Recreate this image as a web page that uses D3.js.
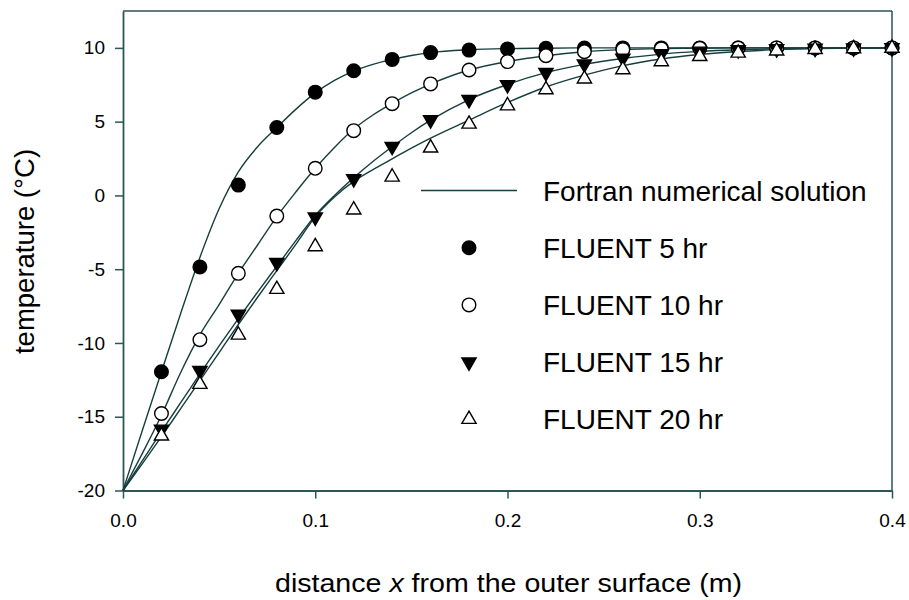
<!DOCTYPE html>
<html>
<head>
<meta charset="utf-8">
<script src="https://cdn.jsdelivr.net/npm/d3@7"></script>
<style>
  body { margin: 0; background: #fff; }
  svg { display: block; font-family: "Liberation Sans", Arial, sans-serif; }
</style>
</head>
<body>
<div id="chart"></div>
<script>
// FLUENT sample positions (m)
const markX = [0.02, 0.04, 0.06, 0.08, 0.10, 0.12, 0.14, 0.16, 0.18, 0.20,
               0.22, 0.24, 0.26, 0.28, 0.30, 0.32, 0.34, 0.36, 0.38, 0.40];

const fluent5  = [-11.95, -4.85, 0.7, 4.6, 7.0, 8.45, 9.22, 9.68, 9.85, 9.93,
                  9.97, 9.99, 10, 10, 10, 10, 10, 10, 10, 10];
const fluent10 = [-14.78, -9.78, -5.28, -1.4, 1.84, 4.39, 6.22, 7.56, 8.5, 9.07,
                  9.47, 9.74, 9.88, 9.94, 9.97, 9.99, 10, 10, 10, 10];
const fluent15 = [-15.85, -11.87, -8.06, -4.55, -1.47, 1.13, 3.32, 5.12, 6.49, 7.5,
                  8.32, 8.9, 9.3, 9.6, 9.77, 9.87, 9.93, 9.97, 9.99, 10];
const fluent20 = [-16.3, -12.8, -9.46, -6.36, -3.47, -0.98, 1.25, 3.22, 4.84, 6.08,
                  7.17, 7.9, 8.53, 9.07, 9.42, 9.65, 9.8, 9.9, 9.95, 9.98];

// Fortran numerical solution
const lineX = [0, 0.01, 0.02, 0.03, 0.04, 0.05, 0.06, 0.07, 0.08, 0.09, 0.10,
               0.11, 0.12, 0.13, 0.14, 0.15, 0.16, 0.18, 0.20, 0.22, 0.24,
               0.26, 0.28, 0.30, 0.32, 0.34, 0.36, 0.38, 0.40];

const fortran5  = [-20, -15.95, -11.95, -8.0, -4.2, -0.9, 1.6, 3.3, 4.6, 5.85, 6.95,
                   7.8, 8.43, 8.88, 9.22, 9.48, 9.68, 9.87, 9.95, 9.98, 10,
                   10, 10, 10, 10, 10, 10, 10, 10];
const fortran10 = [-20, -17.5, -14.9, -12.0, -9.45, -7.4, -5.28, -3.36, -1.44, 0.25, 1.84,
                   3.25, 4.5, 5.45, 6.24, 6.95, 7.55, 8.5, 9.07, 9.47, 9.74,
                   9.88, 9.95, 9.98, 10, 10, 10, 10, 10];
const fortran15 = [-20, -18.0, -16.0, -14.05, -12.1, -10.2, -8.35, -6.55, -4.8, -3.05, -1.35,
                   0.0, 1.2, 2.3, 3.3, 4.25, 5.1, 6.5, 7.52, 8.32, 8.88,
                   9.28, 9.58, 9.76, 9.87, 9.94, 9.97, 9.99, 10];
const fortran20 = [-20, -18.2, -16.35, -14.45, -12.55, -10.65, -8.75, -6.9, -5.1, -3.3, -1.45,
                   -0.1, 0.95, 1.75, 2.48, 3.2, 3.88, 5.1, 6.3, 7.35, 8.15,
                   8.8, 9.25, 9.55, 9.75, 9.88, 9.95, 9.98, 10];

const xTicks = [0, 0.1, 0.2, 0.3, 0.4];
const xTickLabels = ["0.0", "0.1", "0.2", "0.3", "0.4"];
const yTicks = [-20, -15, -10, -5, 0, 5, 10];
const yTickLabels = ["-20", "-15", "-10", "-5", "0", "5", "10"];

const legendLabels = ["Fortran numerical solution", "FLUENT 5 hr", "FLUENT 10 hr",
                      "FLUENT 15 hr", "FLUENT 20 hr"];

const W = 909, H = 600;
const plot = {left: 123, right: 892, top: 11, bottom: 490.5};
const axisCol = "#2b5656", lineCol = "#163e3e";

const svg = d3.select("#chart").append("svg")
  .attr("width", W).attr("height", H);

const x = d3.scaleLinear().domain([0, 0.4]).range([plot.left, plot.right]);
const y = d3.scaleLinear().domain([-20, 12.5]).range([plot.bottom, plot.top]);

// frame top / right
svg.append("line").attr("x1", plot.left).attr("x2", plot.right)
  .attr("y1", plot.top).attr("y2", plot.top)
  .attr("stroke", axisCol).attr("stroke-width", 1.5);
svg.append("line").attr("x1", plot.right).attr("x2", plot.right)
  .attr("y1", plot.top).attr("y2", plot.bottom)
  .attr("stroke", axisCol).attr("stroke-width", 1.5);

const xAxis = svg.append("g")
  .attr("transform", `translate(0,${plot.bottom})`)
  .call(d3.axisBottom(x).tickValues(xTicks).tickFormat((d, i) => xTickLabels[i])
          .tickSize(8).tickSizeOuter(0).tickPadding(15));

const yAxis = svg.append("g")
  .attr("transform", `translate(${plot.left},0)`)
  .call(d3.axisLeft(y).tickValues(yTicks).tickFormat((d, i) => yTickLabels[i])
          .tickSize(8).tickSizeOuter(0).tickPadding(10));

xAxis.select(".domain").attr("stroke", axisCol).attr("stroke-width", 2.2);
yAxis.select(".domain").attr("stroke", axisCol).attr("stroke-width", 1.8);
svg.selectAll(".tick line").attr("stroke", axisCol).attr("stroke-width", 1.5);
svg.selectAll(".tick text").attr("fill", "#000")
  .style("font-size", "19px").style("font-family", "'Liberation Sans', Arial, sans-serif");

// axis titles
const xt = svg.append("text")
  .attr("x", (plot.left + plot.right) / 2 + 1).attr("y", 592)
  .attr("text-anchor", "middle")
  .attr("textLength", 467).attr("lengthAdjust", "spacingAndGlyphs")
  .style("font-size", "25px");
xt.append("tspan").text("distance ");
xt.append("tspan").style("font-style", "italic").text("x");
xt.append("tspan").text(" from the outer surface (m)");

svg.append("text")
  .attr("transform", `translate(34,251.5) rotate(-90)`)
  .attr("text-anchor", "middle")
  .style("font-size", "27.5px")
  .text("temperature (°C)");

// curves
const line = d3.line()
  .x((d, i) => x(lineX[i]))
  .y(d => y(d))
  .curve(d3.curveMonotoneX);

[fortran5, fortran10, fortran15, fortran20].forEach(s => {
  svg.append("path")
    .attr("d", line(s))
    .attr("fill", "none")
    .attr("stroke", lineCol)
    .attr("stroke-width", 1.4);
});

// markers
const triUp = d3.symbol(d3.symbolTriangle, 88);

function drawMarker(g, kind, cx, cy) {
  if (kind === "fc" || kind === "oc") {
    g.append("circle").attr("cx", cx).attr("cy", cy).attr("r", 6.8)
      .attr("fill", kind === "fc" ? "#000" : "#fff")
      .attr("stroke", "#000").attr("stroke-width", 1.4);
  } else {
    const rot = kind === "td" ? 180 : 0;
    g.append("path").attr("d", triUp())
      .attr("transform", `translate(${cx},${cy}) rotate(${rot})`)
      .attr("fill", kind === "td" ? "#000" : "#fff")
      .attr("stroke", "#000").attr("stroke-width", 1.4)
      .attr("stroke-linejoin", "miter");
  }
}

const series = [
  {vals: fluent5, kind: "fc"},
  {vals: fluent10, kind: "oc"},
  {vals: fluent15, kind: "td"},
  {vals: fluent20, kind: "tu"}
];

const markG = svg.append("g");
series.forEach(s => {
  s.vals.forEach((v, i) => drawMarker(markG, s.kind, x(markX[i]), y(v)));
});

// legend
const lg = svg.append("g");
const rowY = d => 190.5 + d * 57.2;
lg.append("line").attr("x1", 421).attr("x2", 517)
  .attr("y1", rowY(0)).attr("y2", rowY(0))
  .attr("stroke", lineCol).attr("stroke-width", 1.4);
series.forEach((s, i) => drawMarker(lg, s.kind, 469, rowY(i + 1)));
legendLabels.forEach((t, i) => {
  lg.append("text").attr("x", 543).attr("y", rowY(i) + 10)
    .style("font-size", "28px").attr("fill", "#000").text(t);
});
</script>
</body>
</html>
